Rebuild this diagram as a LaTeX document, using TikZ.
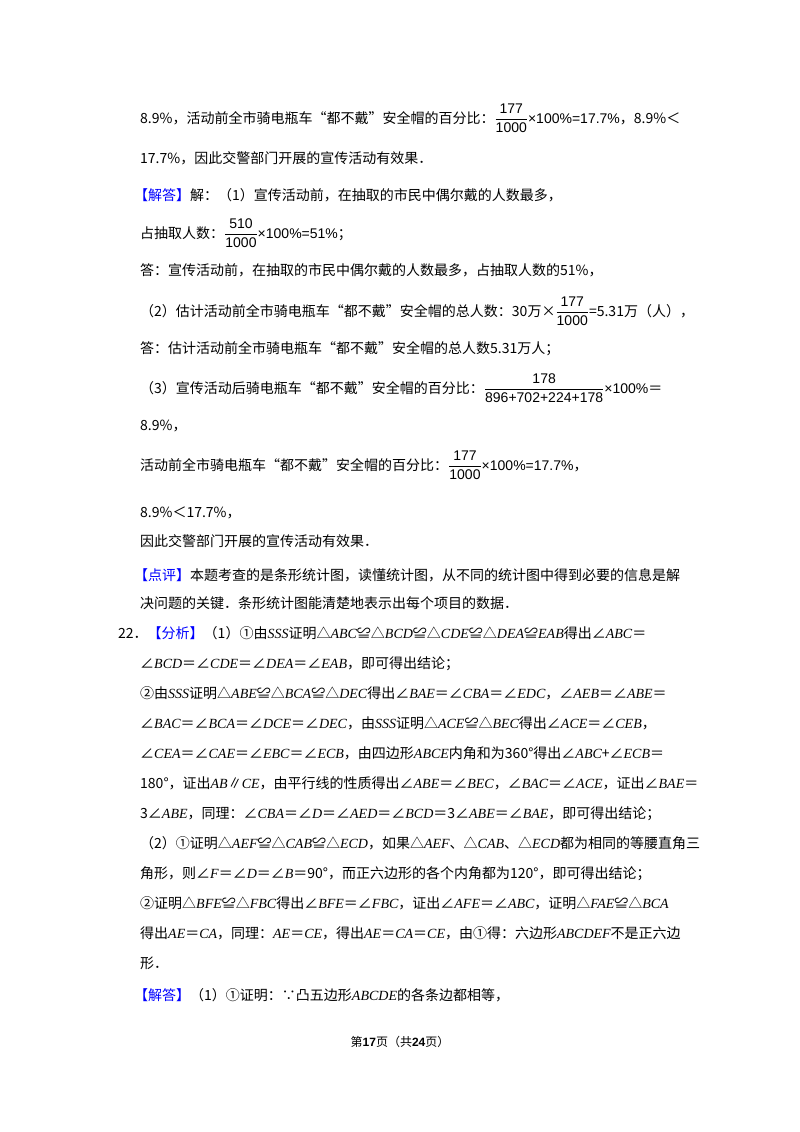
\documentclass[tikz,border=0pt]{standalone}
\usepackage{amsmath}
\usepackage{fontspec}
\setmainfont{Noto Sans CJK SC}
\newfontfamily\latf{Liberation Serif}
\newfontfamily\numf{Liberation Sans}
\newcommand\I[1]{{\latf\itshape #1}}
\newcommand\fr[2]{$\dfrac{\text{\numf #1}}{\text{\numf #2}}$}
\newcommand\bl[1]{\textcolor{blue}{#1}}
\begin{document}
\begin{tikzpicture}[x=1pt,y=-1pt,
  ln/.style={anchor=base west,inner sep=0pt,font=\fontsize{14}{16}\selectfont}]
\useasboundingbox (0,0) rectangle (800,1132);
\fill[white] (0,0) rectangle (800,1132);
\node[ln] (l1) at (140,123) {8.9\%，活动前全市骑电瓶车“都不戴”安全帽的百分比：\fr{177}{1000}{\numf ×100\%=17.7\%}，8.9\%＜};
\node[ln] (l2) at (140,163) {17.7\%，因此交警部门开展的宣传活动有效果．};
\node[ln] (l3) at (134,200) {\bl{【解答】}解：（1）宣传活动前，在抽取的市民中偶尔戴的人数最多，};
\node[ln] (l4) at (140,238) {占抽取人数：\fr{510}{1000}{\numf ×100\%=51\%}；};
\node[ln] (l5) at (140,275) {答：宣传活动前，在抽取的市民中偶尔戴的人数最多，占抽取人数的51\%，};
\node[ln] (l6) at (140,316) {（2）估计活动前全市骑电瓶车“都不戴”安全帽的总人数：30万×\fr{177}{1000}=5.31万（人），};
\node[ln] (l7) at (140,353) {答：估计活动前全市骑电瓶车“都不戴”安全帽的总人数5.31万人；};
\node[ln] (l8) at (140,393) {（3）宣传活动后骑电瓶车“都不戴”安全帽的百分比：\fr{178}{896+702+224+178}{\numf ×100\%}＝};
\node[ln] (l9) at (140,430) {8.9\%，};
\node[ln] (l10) at (140,470) {活动前全市骑电瓶车“都不戴”安全帽的百分比：\fr{177}{1000}{\numf ×100\%=17.7\%}，};
\node[ln] (l11) at (140,517) {8.9\%＜17.7\%，};
\node[ln] (l12) at (140,546) {因此交警部门开展的宣传活动有效果．};
\node[ln] (l13) at (134,580) {\bl{【点评】}本题考查的是条形统计图，读懂统计图，从不同的统计图中得到必要的信息是解};
\node[ln] (l14) at (140,608) {决问题的关键．条形统计图能清楚地表示出每个项目的数据．};
\node[ln] (l15) at (118,638) {22．\bl{【分析】}（1）①由\I{SSS}证明△\I{ABC}≌△\I{BCD}≌△\I{CDE}≌△\I{DEA}≌\I{EAB}得出∠\I{ABC}＝};
\node[ln] (l16) at (140,668) {∠\I{BCD}＝∠\I{CDE}＝∠\I{DEA}＝∠\I{EAB}，即可得出结论；};
\node[ln] (l17) at (140,698) {②由\I{SSS}证明△\I{ABE}≌△\I{BCA}≌△\I{DEC}得出∠\I{BAE}＝∠\I{CBA}＝∠\I{EDC}，∠\I{AEB}＝∠\I{ABE}＝};
\node[ln] (l18) at (140,728) {∠\I{BAC}＝∠\I{BCA}＝∠\I{DCE}＝∠\I{DEC}，由\I{SSS}证明△\I{ACE}≌△\I{BEC}得出∠\I{ACE}＝∠\I{CEB}，};
\node[ln] (l19) at (140,758) {∠\I{CEA}＝∠\I{CAE}＝∠\I{EBC}＝∠\I{ECB}，由四边形\I{ABCE}内角和为360°得出∠\I{ABC}+∠\I{ECB}＝};
\node[ln] (l20) at (140,788) {180°，证出\I{AB}∥\I{CE}，由平行线的性质得出∠\I{ABE}＝∠\I{BEC}，∠\I{BAC}＝∠\I{ACE}，证出∠\I{BAE}＝};
\node[ln] (l21) at (140,818) {3∠\I{ABE}，同理：∠\I{CBA}＝∠\I{D}＝∠\I{AED}＝∠\I{BCD}＝3∠\I{ABE}＝∠\I{BAE}，即可得出结论；};
\node[ln] (l22) at (140,848) {（2）①证明△\I{AEF}≌△\I{CAB}≌△\I{ECD}，如果△\I{AEF}、△\I{CAB}、△\I{ECD}都为相同的等腰直角三};
\node[ln] (l23) at (140,878) {角形，则∠\I{F}＝∠\I{D}＝∠\I{B}＝90°，而正六边形的各个内角都为120°，即可得出结论；};
\node[ln] (l24) at (140,908) {②证明△\I{BFE}≌△\I{FBC}得出∠\I{BFE}＝∠\I{FBC}，证出∠\I{AFE}＝∠\I{ABC}，证明△\I{FAE}≌△\I{BCA}};
\node[ln] (l25) at (140,938) {得出\I{AE}＝\I{CA}，同理：\I{AE}＝\I{CE}，得出\I{AE}＝\I{CA}＝\I{CE}，由①得：六边形\I{ABCDEF}不是正六边};
\node[ln] (l26) at (140,968) {形．};
\node[ln] (l27) at (134,1000) {\bl{【解答】}（1）①证明：∵凸五边形\I{ABCDE}的各条边都相等，};
\node[anchor=base,inner sep=0pt,font=\fontsize{12}{14}\selectfont] (ft) at (400,1046) {第{\numf\bfseries\large 17}页（共{\numf\bfseries\large 24}页）};
\end{tikzpicture}
\end{document}
